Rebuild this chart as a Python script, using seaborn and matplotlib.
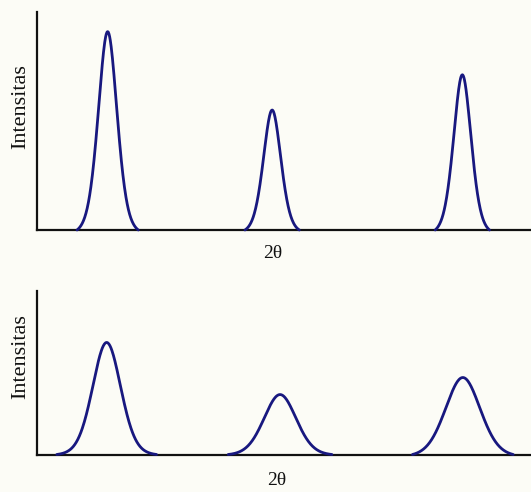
import numpy as np
import pandas as pd
import matplotlib
matplotlib.use('Agg')
import matplotlib.pyplot as plt
import seaborn as sns

# Peak parameters (x in arbitrary 2-theta units 0..100,
# intensity as a fraction of the axis height)
top_centers = [14.3, 47.6, 86.1]
top_heights = [0.911, 0.551, 0.713]
top_fwhm = [4.6, 4.3, 4.3]
top_spans = [6.2, 5.5, 5.5]

bottom_centers = [14.1, 49.2, 86.2]
bottom_heights = [0.684, 0.366, 0.470]
bottom_fwhm = [6.8, 7.8, 8.4]
bottom_spans = [10.1, 10.5, 10.2]

x_label = '2θ'
y_label = 'Intensitas'
line_color = '#18187f'
bg_color = '#fcfcf6'


def peak_frame(centers, heights, fwhm, spans, eta):
    # pseudo-Voigt profile for each peak, cut at its base and dropped to zero there
    rows = []
    for i, (c, h, w, s) in enumerate(zip(centers, heights, fwhm, spans)):
        x = np.linspace(c - s, c + s, 200)
        def pv(v):
            g = np.exp(-4 * np.log(2) * ((v - c) / w) ** 2)
            l = 1 / (1 + 4 * ((v - c) / w) ** 2)
            return eta * l + (1 - eta) * g
        edge = pv(c + s)
        y = h * (pv(x) - edge) / (1 - edge)
        rows.append(pd.DataFrame({'x': x, 'y': y, 'peak': i}))
    return pd.concat(rows, ignore_index=True)


sns.set_style('white')
plt.rcParams['font.family'] = ['Liberation Serif', 'DejaVu Serif']

fig = plt.figure(figsize=(5.31, 4.92), dpi=100, facecolor=bg_color)
ax_top = fig.add_axes([0.0697, 0.5325, 0.9303, 0.4425])
ax_bot = fig.add_axes([0.0697, 0.0762, 0.9303, 0.3329])

panels = [
    (ax_top, peak_frame(top_centers, top_heights, top_fwhm, top_spans, 0.35), 0.565, -0.110, 0.477),
    (ax_bot, peak_frame(bottom_centers, bottom_heights, bottom_fwhm, bottom_spans, 0.2), 0.595, -0.156, 0.485),
]

for ax, df, ylab_y, xlab_y, xlab_x in panels:
    ax.set_facecolor(bg_color)
    sns.lineplot(data=df, x='x', y='y', units='peak', estimator=None,
                 color=line_color, linewidth=2.0, ax=ax, legend=False)
    ax.set_xlim(0, 100)
    ax.set_ylim(0, 1)
    ax.set_xticks([])
    ax.set_yticks([])
    sns.despine(ax=ax)
    for side in ['left', 'bottom']:
        ax.spines[side].set_color('#111111')
        ax.spines[side].set_linewidth(1.6)
    for line in ax.lines:
        line.set_clip_on(False)
        line.set_zorder(3)

    ax.set_ylabel(y_label, fontsize=16, color='#111111')
    ax.yaxis.label.set_va('center')
    ax.yaxis.set_label_coords(-0.033, ylab_y)
    ax.set_xlabel(x_label, fontsize=14, color='#111111')
    ax.xaxis.label.set_va('center')
    ax.xaxis.set_label_coords(xlab_x, xlab_y)

fig.savefig('out.png', dpi=100, facecolor=bg_color)
